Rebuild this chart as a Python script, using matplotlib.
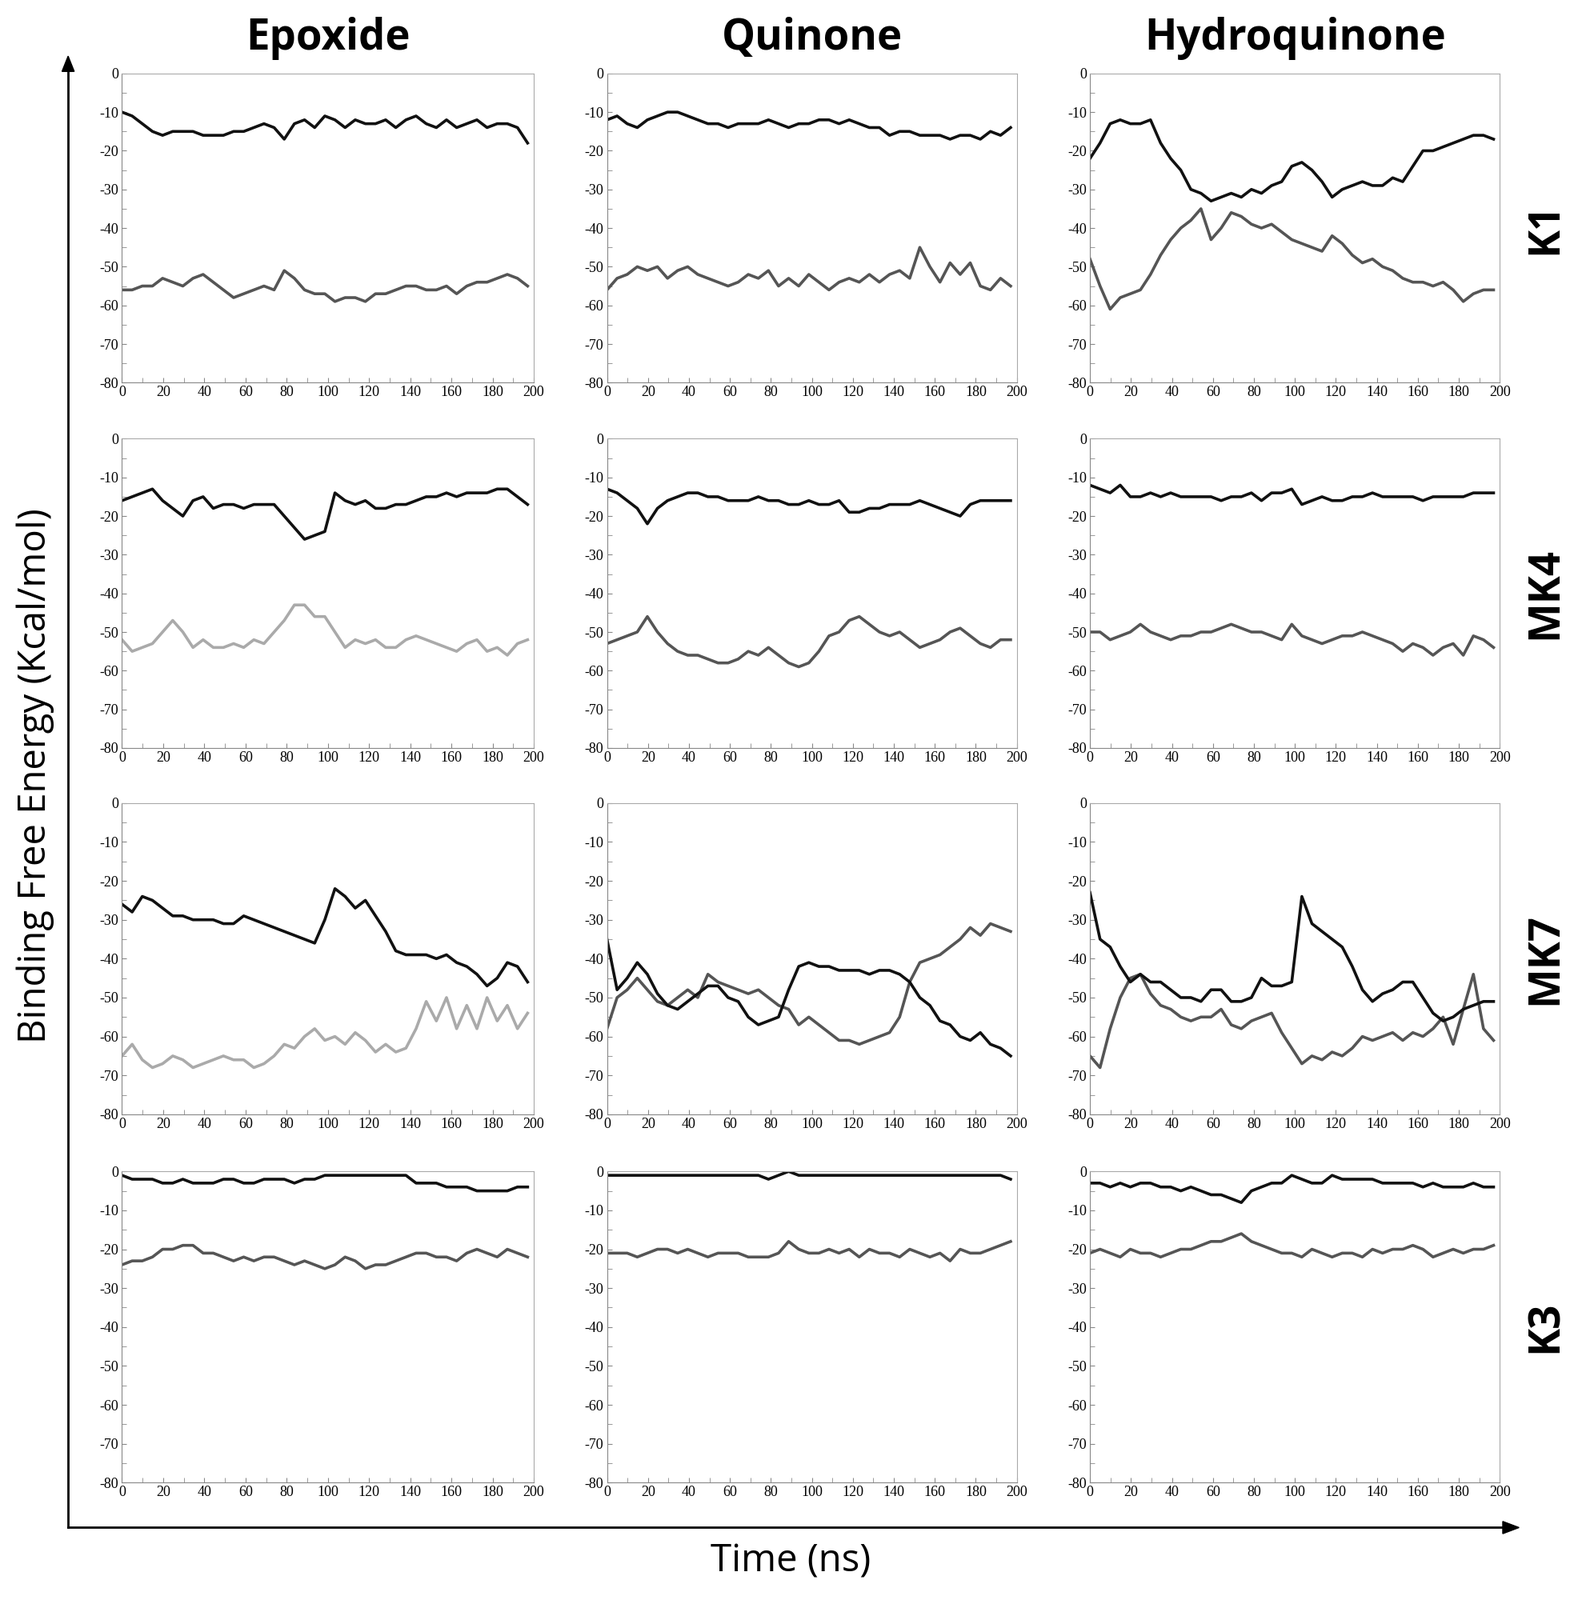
import numpy as np
import matplotlib.pyplot as plt
from matplotlib.ticker import MultipleLocator

compounds = ["Epoxide", "Quinone", "Hydroquinone"]
vitamins = ["K1", "MK4", "MK7", "K3"]
step_ns = 5  # sampling interval of the traces below

# (row, col) -> (dark trace, gray trace)
k1_epoxide_a = [-10,-11,-13,-15,-16,-15,-15,-15,-16,-16,-16,-15,-15,-14,-13,-14,-17,-13,-12,-14,-11,-12,-14,-12,-13,-13,-12,-14,-12,-11,-13,-14,-12,-14,-13,-12,-14,-13,-13,-14,-18]
k1_epoxide_b = [-56,-56,-55,-55,-53,-54,-55,-53,-52,-54,-56,-58,-57,-56,-55,-56,-51,-53,-56,-57,-57,-59,-58,-58,-59,-57,-57,-56,-55,-55,-56,-56,-55,-57,-55,-54,-54,-53,-52,-53,-55]
k1_quinone_a = [-12,-11,-13,-14,-12,-11,-10,-10,-11,-12,-13,-13,-14,-13,-13,-13,-12,-13,-14,-13,-13,-12,-12,-13,-12,-13,-14,-14,-16,-15,-15,-16,-16,-16,-17,-16,-16,-17,-15,-16,-14]
k1_quinone_b = [-56,-53,-52,-50,-51,-50,-53,-51,-50,-52,-53,-54,-55,-54,-52,-53,-51,-55,-53,-55,-52,-54,-56,-54,-53,-54,-52,-54,-52,-51,-53,-45,-50,-54,-49,-52,-49,-55,-56,-53,-55]
k1_hydro_a = [-22,-18,-13,-12,-13,-13,-12,-18,-22,-25,-30,-31,-33,-32,-31,-32,-30,-31,-29,-28,-24,-23,-25,-28,-32,-30,-29,-28,-29,-29,-27,-28,-24,-20,-20,-19,-18,-17,-16,-16,-17]
k1_hydro_b = [-48,-55,-61,-58,-57,-56,-52,-47,-43,-40,-38,-35,-43,-40,-36,-37,-39,-40,-39,-41,-43,-44,-45,-46,-42,-44,-47,-49,-48,-50,-51,-53,-54,-54,-55,-54,-56,-59,-57,-56,-56]

mk4_epoxide_a = [-16,-15,-14,-13,-16,-18,-20,-16,-15,-18,-17,-17,-18,-17,-17,-17,-20,-23,-26,-25,-24,-14,-16,-17,-16,-18,-18,-17,-17,-16,-15,-15,-14,-15,-14,-14,-14,-13,-13,-15,-17]
mk4_epoxide_b = [-52,-55,-54,-53,-50,-47,-50,-54,-52,-54,-54,-53,-54,-52,-53,-50,-47,-43,-43,-46,-46,-50,-54,-52,-53,-52,-54,-54,-52,-51,-52,-53,-54,-55,-53,-52,-55,-54,-56,-53,-52]
mk4_quinone_a = [-13,-14,-16,-18,-22,-18,-16,-15,-14,-14,-15,-15,-16,-16,-16,-15,-16,-16,-17,-17,-16,-17,-17,-16,-19,-19,-18,-18,-17,-17,-17,-16,-17,-18,-19,-20,-17,-16,-16,-16,-16]
mk4_quinone_b = [-53,-52,-51,-50,-46,-50,-53,-55,-56,-56,-57,-58,-58,-57,-55,-56,-54,-56,-58,-59,-58,-55,-51,-50,-47,-46,-48,-50,-51,-50,-52,-54,-53,-52,-50,-49,-51,-53,-54,-52,-52]
mk4_hydro_a = [-12,-13,-14,-12,-15,-15,-14,-15,-14,-15,-15,-15,-15,-16,-15,-15,-14,-16,-14,-14,-13,-17,-16,-15,-16,-16,-15,-15,-14,-15,-15,-15,-15,-16,-15,-15,-15,-15,-14,-14,-14]
mk4_hydro_b = [-50,-50,-52,-51,-50,-48,-50,-51,-52,-51,-51,-50,-50,-49,-48,-49,-50,-50,-51,-52,-48,-51,-52,-53,-52,-51,-51,-50,-51,-52,-53,-55,-53,-54,-56,-54,-53,-56,-51,-52,-54]

mk7_epoxide_a = [-26,-28,-24,-25,-27,-29,-29,-30,-30,-30,-31,-31,-29,-30,-31,-32,-33,-34,-35,-36,-30,-22,-24,-27,-25,-29,-33,-38,-39,-39,-39,-40,-39,-41,-42,-44,-47,-45,-41,-42,-46]
mk7_epoxide_b = [-65,-62,-66,-68,-67,-65,-66,-68,-67,-66,-65,-66,-66,-68,-67,-65,-62,-63,-60,-58,-61,-60,-62,-59,-61,-64,-62,-64,-63,-58,-51,-56,-50,-58,-52,-58,-50,-56,-52,-58,-54]
mk7_quinone_a = [-35,-48,-45,-41,-44,-49,-52,-53,-51,-49,-47,-47,-50,-51,-55,-57,-56,-55,-48,-42,-41,-42,-42,-43,-43,-43,-44,-43,-43,-44,-46,-50,-52,-56,-57,-60,-61,-59,-62,-63,-65]
mk7_quinone_b = [-58,-50,-48,-45,-48,-51,-52,-50,-48,-50,-44,-46,-47,-48,-49,-48,-50,-52,-53,-57,-55,-57,-59,-61,-61,-62,-61,-60,-59,-55,-46,-41,-40,-39,-37,-35,-32,-34,-31,-32,-33]
mk7_hydro_a = [-23,-35,-37,-42,-46,-44,-46,-46,-48,-50,-50,-51,-48,-48,-51,-51,-50,-45,-47,-47,-46,-24,-31,-33,-35,-37,-42,-48,-51,-49,-48,-46,-46,-50,-54,-56,-55,-53,-52,-51,-51]
mk7_hydro_b = [-65,-68,-58,-50,-45,-44,-49,-52,-53,-55,-56,-55,-55,-53,-57,-58,-56,-55,-54,-59,-63,-67,-65,-66,-64,-65,-63,-60,-61,-60,-59,-61,-59,-60,-58,-55,-62,-53,-44,-58,-61]

k3_epoxide_a = [-1,-2,-2,-2,-3,-3,-2,-3,-3,-3,-2,-2,-3,-3,-2,-2,-2,-3,-2,-2,-1,-1,-1,-1,-1,-1,-1,-1,-1,-3,-3,-3,-4,-4,-4,-5,-5,-5,-5,-4,-4]
k3_epoxide_b = [-24,-23,-23,-22,-20,-20,-19,-19,-21,-21,-22,-23,-22,-23,-22,-22,-23,-24,-23,-24,-25,-24,-22,-23,-25,-24,-24,-23,-22,-21,-21,-22,-22,-23,-21,-20,-21,-22,-20,-21,-22]
k3_quinone_a = [-1,-1,-1,-1,-1,-1,-1,-1,-1,-1,-1,-1,-1,-1,-1,-1,-2,-1,0,-1,-1,-1,-1,-1,-1,-1,-1,-1,-1,-1,-1,-1,-1,-1,-1,-1,-1,-1,-1,-1,-2]
k3_quinone_b = [-21,-21,-21,-22,-21,-20,-20,-21,-20,-21,-22,-21,-21,-21,-22,-22,-22,-21,-18,-20,-21,-21,-20,-21,-20,-22,-20,-21,-21,-22,-20,-21,-22,-21,-23,-20,-21,-21,-20,-19,-18]
k3_hydro_a = [-3,-3,-4,-3,-4,-3,-3,-4,-4,-5,-4,-5,-6,-6,-7,-8,-5,-4,-3,-3,-1,-2,-3,-3,-1,-2,-2,-2,-2,-3,-3,-3,-3,-4,-3,-4,-4,-4,-3,-4,-4]
k3_hydro_b = [-21,-20,-21,-22,-20,-21,-21,-22,-21,-20,-20,-19,-18,-18,-17,-16,-18,-19,-20,-21,-21,-22,-20,-21,-22,-21,-21,-22,-20,-21,-20,-20,-19,-20,-22,-21,-20,-21,-20,-20,-19]

panels = [
    [(k1_epoxide_a, k1_epoxide_b), (k1_quinone_a, k1_quinone_b), (k1_hydro_a, k1_hydro_b)],
    [(mk4_epoxide_a, mk4_epoxide_b), (mk4_quinone_a, mk4_quinone_b), (mk4_hydro_a, mk4_hydro_b)],
    [(mk7_epoxide_a, mk7_epoxide_b), (mk7_quinone_a, mk7_quinone_b), (mk7_hydro_a, mk7_hydro_b)],
    [(k3_epoxide_a, k3_epoxide_b), (k3_quinone_a, k3_quinone_b), (k3_hydro_a, k3_hydro_b)],
]
light_gray = {(1, 0), (2, 0)}

W, H = 1552, 1568  # layout coordinates measured on the reference
col_x = [(120, 525), (597, 1000), (1072, 1475)]
row_y = [(72, 375), (430, 733), (787, 1092), (1148, 1453)]

fig = plt.figure(figsize=(19.72, 20), dpi=100)
tick_font = {"family": "Liberation Serif", "size": 13}

for r in range(4):
    for c in range(3):
        x0, x1 = col_x[c]
        y0, y1 = row_y[r]
        ax = fig.add_axes([x0 / W, 1 - y1 / H, (x1 - x0) / W, (y1 - y0) / H])
        a, b = panels[r][c]
        gray = "#aaaaaa" if (r, c) in light_gray else "#555555"
        ax.plot(np.arange(len(b)) * step_ns * 0.985, b, color=gray, lw=2.6)
        ax.plot(np.arange(len(a)) * step_ns * 0.985, a, color="#111111", lw=2.6)
        ax.set_xlim(0, 200)
        ax.set_ylim(-80, 0)
        ax.xaxis.set_major_locator(MultipleLocator(20))
        ax.xaxis.set_minor_locator(MultipleLocator(10))
        ax.yaxis.set_major_locator(MultipleLocator(10))
        ax.yaxis.set_minor_locator(MultipleLocator(5))
        ax.tick_params(which="both", direction="in", color="#888888", length=4, pad=3)
        for s in ax.spines.values():
            s.set_color("#aaaaaa")
        ax.spines["left"].set_color("#888888")
        ax.spines["bottom"].set_color("#888888")
        ax.set_xticks(range(0, 201, 20))
        ax.set_xticklabels([str(v) for v in range(0, 201, 20)], **tick_font)
        ax.set_yticks(range(-80, 1, 10))
        ax.set_yticklabels([str(v) for v in range(-80, 1, 10)], **tick_font)

for c, name in enumerate(compounds):
    xc = sum(col_x[c]) / 2 / W
    fig.text(xc, 1 - 38 / H, name, ha="center", va="center",
             fontsize=38, fontweight="bold", family="Open Sans")
for r, name in enumerate(vitamins):
    yc = 1 - sum(row_y[r]) / 2 / H
    fig.text(1520 / W, yc, name, ha="center", va="center", rotation=90,
             fontsize=38, fontweight="bold", family="Open Sans")

fig.text(35 / W, 1 - 760 / H, "Binding Free Energy (Kcal/mol)", ha="center", va="center",
         rotation=90, fontsize=34, family="Open Sans")
fig.text(778 / W, 1 - 1530 / H, "Time (ns)", ha="center", va="center",
         fontsize=34, family="Open Sans")

# axis arrows
fig.add_artist(plt.Line2D([67 / W, 67 / W], [1 - 1497 / H, 1 - 68 / H], color="black", lw=2))
fig.add_artist(plt.Line2D([67 / W, 1480 / W], [1 - 1497 / H, 1 - 1497 / H], color="black", lw=2))
fig.patches.append(plt.Polygon([[61 / W, 1 - 70 / H], [73 / W, 1 - 70 / H], [67 / W, 1 - 55 / H]],
                               closed=True, color="black", transform=fig.transFigure))
fig.patches.append(plt.Polygon([[1478 / W, 1 - 1491 / H], [1478 / W, 1 - 1503 / H], [1494 / W, 1 - 1497 / H]],
                               closed=True, color="black", transform=fig.transFigure))

fig.savefig("out.png", dpi=100)
